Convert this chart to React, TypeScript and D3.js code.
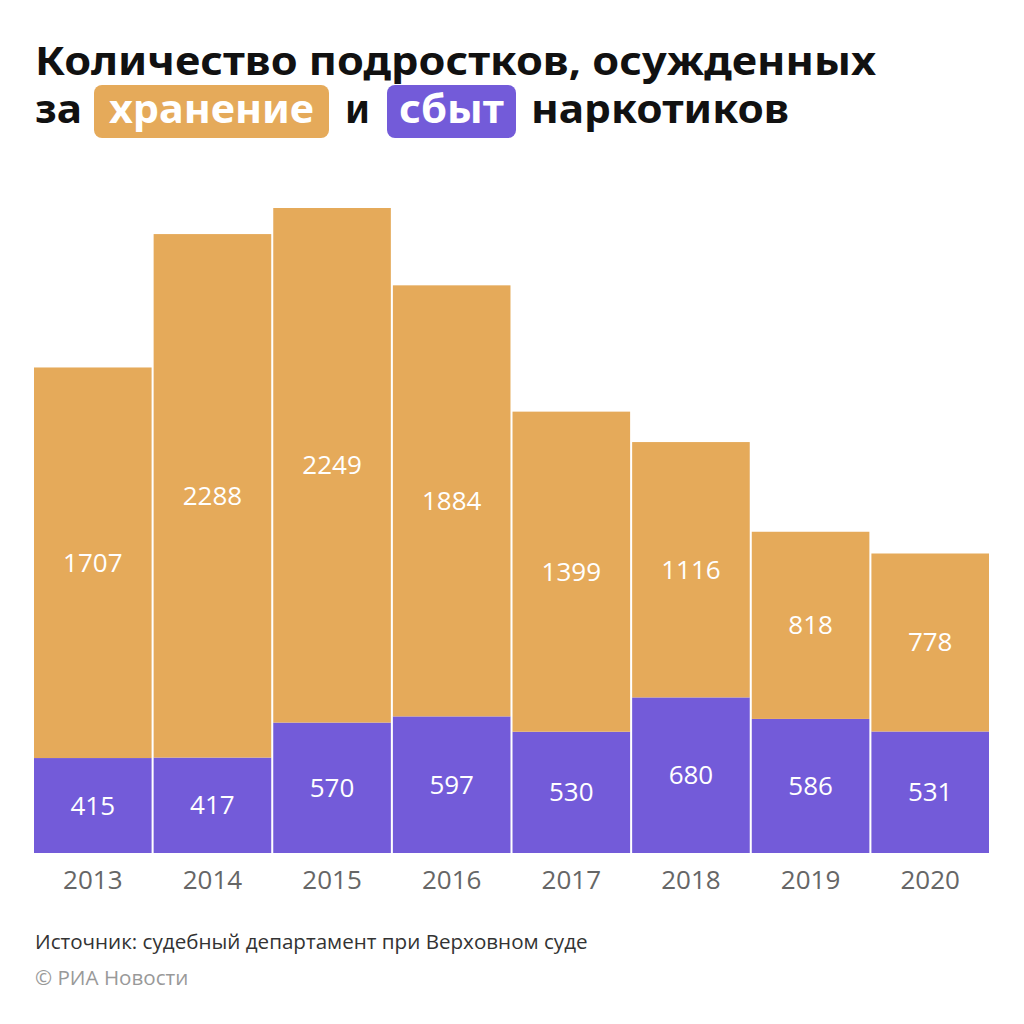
import React from "react";
import * as d3 from "d3";

const years = ["2013", "2014", "2015", "2016", "2017", "2018", "2019", "2020"];
const storage = [1707, 2288, 2249, 1884, 1399, 1116, 818, 778];
const sales = [415, 417, 570, 597, 530, 680, 586, 531];

const ORANGE = "#E5AA5A";
const PURPLE = "#735BD9";

export default function App() {
  const W = 1024, H = 1024;
  const x = d3.scaleBand<string>().domain(years).range([34, 989]).paddingInner(0.017).paddingOuter(0);
  const maxTotal = d3.max(years.map((_, i) => storage[i] + sales[i])) as number;
  const y = d3.scaleLinear().domain([0, maxTotal]).range([853, 208]);
  const stackData = years.map((yr, i) => ({ year: yr, sales: sales[i], storage: storage[i] }));
  const series = d3.stack<any>().keys(["sales", "storage"])(stackData);
  const colors: Record<string, string> = { sales: PURPLE, storage: ORANGE };
  const titleFont = "'Noto Sans', 'DejaVu Sans', sans-serif";
  const bodyFont = "'Open Sans', 'Noto Sans', sans-serif";

  return (
    <svg width={W} height={H} style={{ display: "block", position: "absolute", left: 0, top: 0 }} viewBox={`0 0 ${W} ${H}`}>
      <rect width={W} height={H} fill="#fff" />
      <g fontFamily={titleFont} fontWeight={700} fontSize={40} fill="#111">
        <text x={35} y={75} textLength={841} lengthAdjust="spacingAndGlyphs">Количество подростков, осужденных</text>
        <text x={35} y={123} textLength={47} lengthAdjust="spacingAndGlyphs">за</text>
        <rect x={94} y={85} width={235} height={53} rx={8} fill={ORANGE} />
        <text x={211.5} y={123} textAnchor="middle" fill="#fff" textLength={205} lengthAdjust="spacingAndGlyphs">хранение</text>
        <text x={345} y={123} textLength={25} lengthAdjust="spacingAndGlyphs">и</text>
        <rect x={387} y={85} width={129} height={53} rx={8} fill={PURPLE} />
        <text x={451.5} y={123} textAnchor="middle" fill="#fff" textLength={105} lengthAdjust="spacingAndGlyphs">сбыт</text>
        <text x={531} y={123} textLength={258} lengthAdjust="spacingAndGlyphs">наркотиков</text>
      </g>
      {series.map((s) => (
        <g key={s.key}>
          {s.map((d, i) => {
            const x0 = x(years[i]) as number;
            const y0 = y(d[1]);
            const h = y(d[0]) - y(d[1]);
            return (
              <g key={i}>
                <rect x={x0} y={y0} width={x.bandwidth()} height={h} fill={colors[s.key]} />
                <text
                  x={x0 + x.bandwidth() / 2}
                  y={y0 + h / 2 + 9}
                  textAnchor="middle"
                  fill="#fff"
                  fontFamily={bodyFont}
                  fontSize={26}
                >
                  {(d.data as any)[s.key]}
                </text>
              </g>
            );
          })}
        </g>
      ))}
      {years.map((yr) => (
        <text
          key={yr}
          x={(x(yr) as number) + x.bandwidth() / 2}
          y={889}
          textAnchor="middle"
          fill="#666"
          fontFamily={bodyFont}
          fontSize={26}
        >
          {yr}
        </text>
      ))}
      <text x={35} y={949} fill="#333" fontFamily={bodyFont} fontSize={20.6}>
        Источник: судебный департамент при Верховном суде
      </text>
      <text x={35} y={985} fill="#999" fontFamily={bodyFont} fontSize={20.6}>
        © РИА Новости
      </text>
    </svg>
  );
}
